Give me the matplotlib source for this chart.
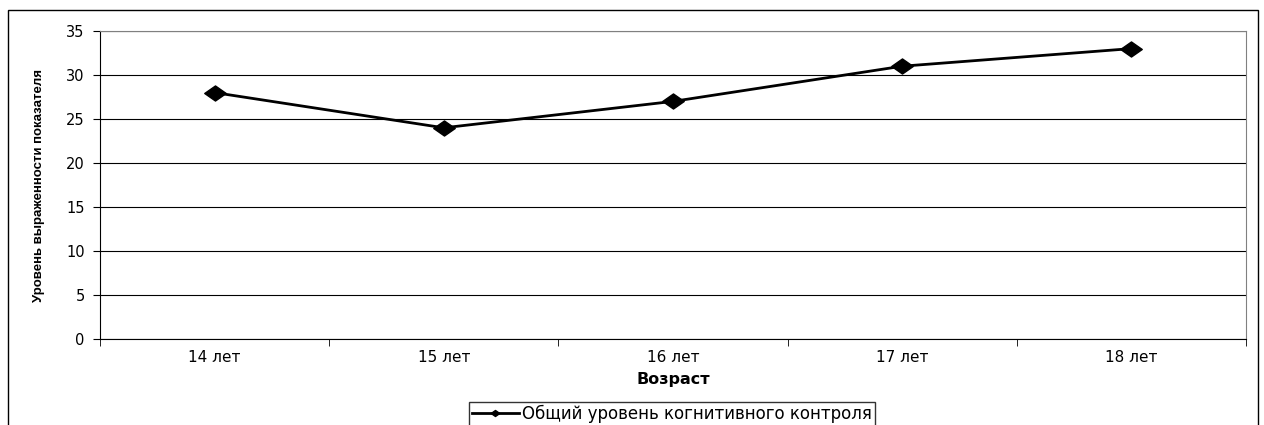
import matplotlib
matplotlib.use("Agg")
import matplotlib.pyplot as plt
from matplotlib.patches import Rectangle
from matplotlib.path import Path
from matplotlib.ticker import FixedLocator

plt.rcParams['font.family'] = ['DejaVu Sans']

categories = ["14 лет", "15 лет", "16 лет", "17 лет", "18 лет"]
values = [28, 24, 27, 31, 33]
series_name = "Общий уровень когнитивного контроля"
x_title = "Возраст"
y_title = "Уровень выраженности показателя"

# wide diamond marker shape (reference is horizontally stretched)
wide_diamond = Path([(-1, 0), (0, 0.7), (1, 0), (0, -0.7), (-1, 0)],
                    [Path.MOVETO, Path.LINETO, Path.LINETO, Path.LINETO, Path.CLOSEPOLY])

fig = plt.figure(figsize=(12.64, 4.25), dpi=100)
fig.patches.append(Rectangle((8/1264, -0.1), (1258-8)/1264, 1.1 - 10/425,
                             transform=fig.transFigure, fill=False,
                             edgecolor='black', linewidth=1.0))
ax = fig.add_axes([100/1264, 1-339/425, (1246-100)/1264, (339-31)/425])

xs = list(range(len(categories)))
ax.plot(xs, values, color='black', linewidth=2.0, marker=wide_diamond, markersize=15.5,
        label=series_name, zorder=5)

ax.set_xlim(-0.5, len(categories) - 0.5)
ax.set_ylim(0, 35)
ax.set_yticks(range(0, 36, 5))
ax.yaxis.grid(True, color='black', linewidth=0.8)
ax.set_axisbelow(True)

ax.set_xticks(xs)
ax.set_xticklabels(categories, fontsize=11)
ax.tick_params(axis='x', which='major', length=0, pad=8)
ax.xaxis.set_minor_locator(FixedLocator([i - 0.5 for i in range(len(categories) + 1)]))
ax.tick_params(axis='x', which='minor', length=5, direction='out', color='black')
ax.tick_params(axis='y', length=5, direction='out', labelsize=10.5, pad=6)

for s in ['top', 'right']:
    ax.spines[s].set_color('#808080')
for s in ['left', 'bottom']:
    ax.spines[s].set_color('black')

ax.set_xlabel(x_title, fontsize=11.5, fontweight='bold')
ax.xaxis.set_label_coords(0.5, -(372 - 339) / 308)
ax.set_ylabel(y_title, fontsize=9.5, fontweight='bold', family='Liberation Sans')
ax.yaxis.set_label_coords(-(100 - 45) / 1146, 0.5)

leg = ax.legend(loc='center', bbox_to_anchor=(672/1264, 1-414/425),
                bbox_transform=fig.transFigure, fontsize=12, frameon=True,
                fancybox=False, edgecolor='black', handlelength=2.8,
                handletextpad=0.2, borderpad=0.2, markerscale=0.4)
leg.get_frame().set_linewidth(1.0)

fig.savefig("out.png", dpi=100)
